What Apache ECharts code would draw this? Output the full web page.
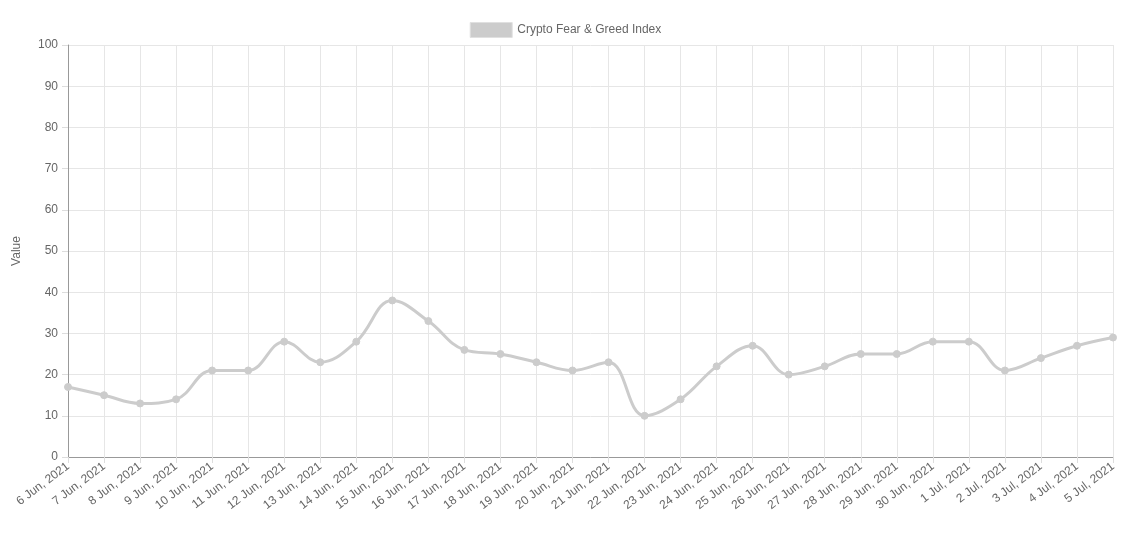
<!DOCTYPE html>
<html><head><meta charset="utf-8">
<script src="https://cdn.jsdelivr.net/npm/echarts@6/dist/echarts.min.js"></script>
<style>html,body{margin:0;padding:0;background:#fff}#c{width:1131px;height:533px}</style>
</head><body><div id="c"></div>
<script>
var categories = ["6 Jun, 2021","7 Jun, 2021","8 Jun, 2021","9 Jun, 2021","10 Jun, 2021","11 Jun, 2021","12 Jun, 2021","13 Jun, 2021","14 Jun, 2021","15 Jun, 2021","16 Jun, 2021","17 Jun, 2021","18 Jun, 2021","19 Jun, 2021","20 Jun, 2021","21 Jun, 2021","22 Jun, 2021","23 Jun, 2021","24 Jun, 2021","25 Jun, 2021","26 Jun, 2021","27 Jun, 2021","28 Jun, 2021","29 Jun, 2021","30 Jun, 2021","1 Jul, 2021","2 Jul, 2021","3 Jul, 2021","4 Jul, 2021","5 Jul, 2021"];
var values = [17,15,13,14,21,21,28,23,28,38,33,26,25,23,21,23,10,14,22,27,20,22,25,25,28,28,21,24,27,29];
var seriesName = "Crypto Fear & Greed Index";
var yTicks = {min:0, max:100, interval:10};

var chart = echarts.init(document.getElementById('c'), null, {renderer:'canvas'});
var font = "'Liberation Sans', Arial, sans-serif";
chart.setOption({
  animation:false,
  textStyle:{fontFamily:font},
  legend:{top:17,left:'center',itemWidth:42,itemHeight:15,itemGap:6,
    textStyle:{color:'#666',fontSize:12,fontFamily:font},
    data:[{name:seriesName,icon:'rect',itemStyle:{color:'#ccc',borderColor:'#e0e0e0',borderWidth:1}}]},
  grid:{left:68,right:18,top:45,bottom:76,containLabel:false},
  xAxis:{type:'category',data:categories,boundaryGap:false,
    axisLine:{lineStyle:{color:'#999',width:1}},
    axisTick:{show:true,length:6,lineStyle:{color:'#ddd'}},
    axisLabel:{rotate:37,color:'#666',fontSize:12,fontFamily:font,interval:0,margin:8},
    splitLine:{show:true,lineStyle:{color:'#e6e6e6',width:1}}},
  yAxis:{type:'value',min:yTicks.min,max:yTicks.max,interval:yTicks.interval,
    name:'Value',nameLocation:'middle',nameGap:45,nameRotate:90,
    nameTextStyle:{color:'#666',fontSize:12,fontFamily:font},
    axisLine:{show:true,lineStyle:{color:'#999',width:1}},
    axisTick:{show:true,length:6,lineStyle:{color:'#ddd'}},
    axisLabel:{color:'#666',fontSize:12,fontFamily:font,margin:10},
    splitLine:{show:true,lineStyle:{color:'#e6e6e6',width:1}}},
  series:[{name:seriesName,type:'line',data:values,smooth:0.4,
    symbol:'circle',symbolSize:7,showSymbol:true,
    lineStyle:{color:'#ccc',width:3},
    itemStyle:{color:'#ccc',borderColor:'#ccc'}}]
});
</script></body></html>
